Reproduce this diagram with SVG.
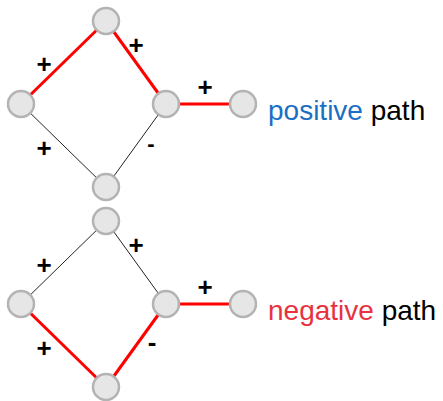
<svg xmlns="http://www.w3.org/2000/svg" width="443" height="401" viewBox="0 0 443 401">
<style>
.n{fill:#e6e6e6;stroke:#b3b3b3;stroke-width:2.5}
.r{stroke:#ff0000;stroke-width:3;fill:none}
.k{stroke:#222;stroke-width:1;fill:none}
.s{font-family:"Liberation Sans",Arial,sans-serif;font-weight:bold;font-size:26px;text-anchor:middle;fill:#000}
.t{font-family:"Liberation Sans",Arial,sans-serif;font-size:28px}
</style>
<rect width="443" height="401" fill="#fff"/>
<g id="connectors">
<line class="r" x1="21" y1="104" x2="106" y2="21"/>
<line class="r" x1="106" y1="21" x2="166" y2="104"/>
<line class="r" x1="166" y1="104" x2="243" y2="104"/>
<line class="k" x1="21" y1="104" x2="106" y2="187"/>
<line class="k" x1="166" y1="104" x2="106" y2="187"/>
<line class="k" x1="21" y1="304" x2="106" y2="221"/>
<line class="k" x1="106" y1="221" x2="166" y2="304"/>
<line class="r" x1="166" y1="304" x2="243" y2="304"/>
<line class="r" x1="21" y1="304" x2="106" y2="387"/>
<line class="r" x1="166" y1="304" x2="106" y2="387"/>
<text class="s" x="44" y="73">+</text>
<text class="s" x="136" y="54">+</text>
<text class="s" x="205" y="96">+</text>
<text class="s" x="44" y="157">+</text>
<text class="s" x="151" y="151" style="font-size:22px">-</text>
<text class="s" x="44" y="274">+</text>
<text class="s" x="136" y="254">+</text>
<text class="s" x="205" y="296">+</text>
<text class="s" x="44" y="357">+</text>
<text class="s" x="152" y="351">-</text>
</g>
<g id="p-top"><circle class="n" cx="106" cy="21" r="13"/></g>
<g id="p-left"><circle class="n" cx="21" cy="104" r="13"/></g>
<g id="p-right"><circle class="n" cx="166" cy="104" r="13"/></g>
<g id="p-end"><circle class="n" cx="243" cy="104" r="13"/></g>
<g id="p-bottom"><circle class="n" cx="106" cy="187" r="13"/></g>
<g id="n-top"><circle class="n" cx="106" cy="221" r="13"/></g>
<g id="n-left"><circle class="n" cx="21" cy="304" r="13"/></g>
<g id="n-right"><circle class="n" cx="166" cy="304" r="13"/></g>
<g id="n-end"><circle class="n" cx="243" cy="304" r="13"/></g>
<g id="n-bottom"><circle class="n" cx="106" cy="387" r="13"/></g>
<g id="label-positive"><text class="t" x="268" y="120"><tspan fill="#1a6fc4">positive</tspan><tspan fill="#000"> path</tspan></text></g>
<g id="label-negative"><text class="t" x="268" y="320"><tspan fill="#e8323f">negative</tspan><tspan fill="#000"> path</tspan></text></g>
</svg>
